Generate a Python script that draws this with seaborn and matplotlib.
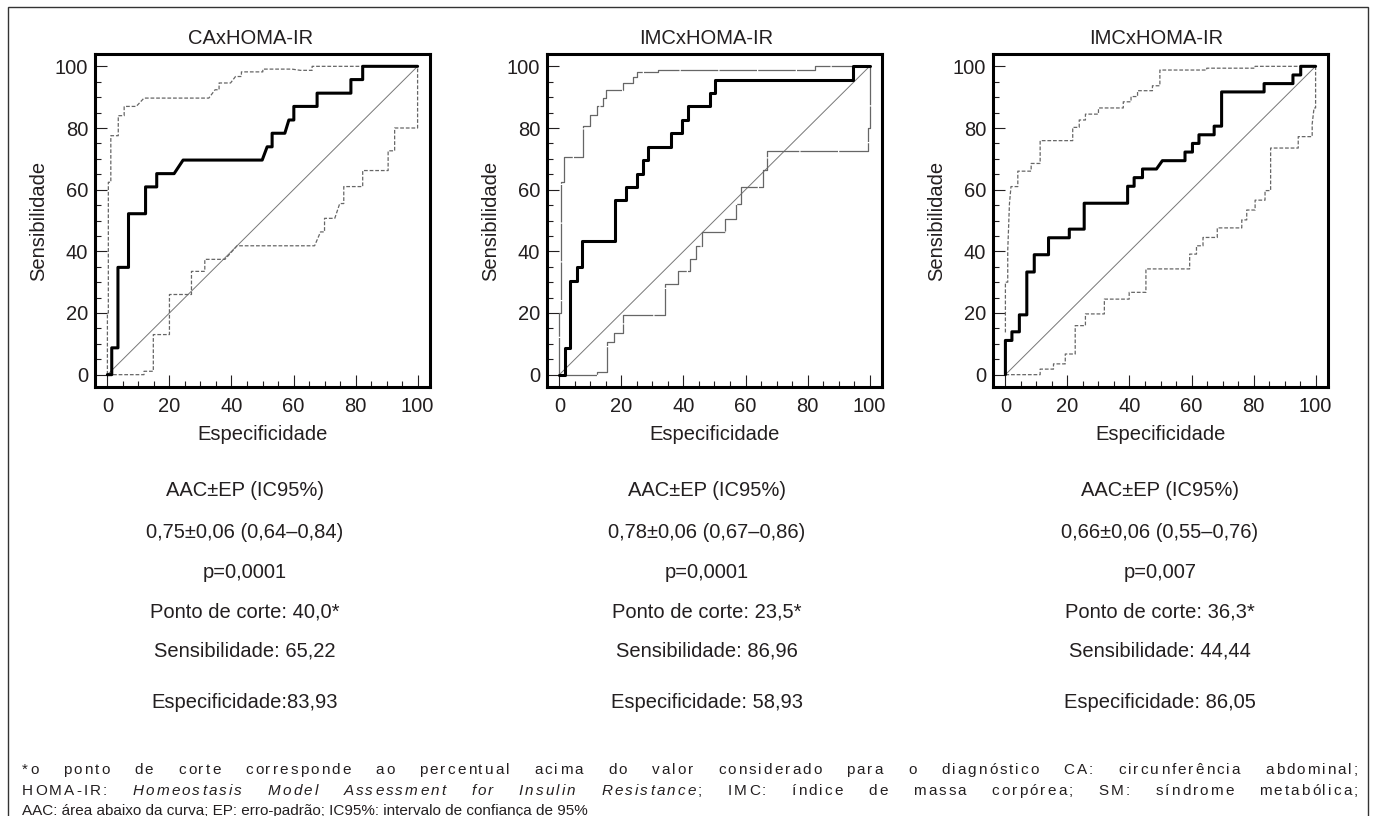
import matplotlib
matplotlib.use('Agg')
import matplotlib.pyplot as plt
from matplotlib.patches import Rectangle
from matplotlib.ticker import MultipleLocator
import seaborn as sns

# ---- curves (x: especificidade scale, y: sensibilidade) ----
# panel 1: CA x HOMA-IR
ca_roc_x = [0, 1.4, 1.4, 3.4, 3.4, 6.8, 6.8, 12.3, 12.3, 15.9, 15.9, 21.5, 24.4, 49.9, 51.5, 53.1, 53.1,
            57.2, 58.5, 60.1, 60.1, 67.6, 67.6, 78.5, 78.5, 82.3, 82.3, 100]
ca_roc_y = [0, 0, 8.7, 8.7, 34.8, 34.8, 52.2, 52.2, 60.9, 60.9, 65.2, 65.2, 69.6, 69.6, 73.9, 73.9, 78.3,
            78.3, 82.6, 82.6, 87.0, 87.0, 91.3, 91.3, 95.7, 95.7, 100, 100]
ca_hi_x = [0, 0, 0.3, 0.3, 1.1, 1.1, 3.5, 3.5, 5.4, 5.4, 9.3, 11.8, 32.7, 34.7, 36, 36, 39.7, 41.3, 43.2,
           43.2, 50.1, 50.1, 59.5, 62.2, 66, 66, 100]
ca_hi_y = [0, 20, 20, 62.4, 62.4, 77.5, 77.5, 84, 84, 87, 87, 89.7, 89.7, 92.4, 92.4, 94.6, 94.6, 96.7,
           96.7, 98.2, 98.2, 99.1, 99.1, 98.7, 98.7, 100, 100]
ca_lo_x = [0, 11.8, 11.8, 14.8, 14.8, 20, 20, 27.1, 27.1, 31.4, 31.4, 37.9, 41.8, 66.8, 68.7, 70, 70,
           73.3, 74.9, 76.2, 76.2, 82.3, 82.3, 90.5, 90.5, 92.6, 92.6, 100, 100]
ca_lo_y = [0, 0, 1.1, 1.1, 13, 13, 26, 26, 33.5, 33.5, 37.4, 37.4, 41.8, 41.8, 46.3, 46.3, 50.7, 50.7,
           55.5, 55.5, 61, 61, 66.2, 66.2, 72.6, 72.6, 80, 80, 100]

# panel 2: IMC x HOMA-IR
imc_roc_x = [0, 1.8, 1.8, 3.5, 3.5, 5.6, 5.6, 7.2, 7.2, 18, 18, 21.5, 21.5, 25, 25, 26.9, 26.9, 28.5,
             28.5, 36, 36, 39.6, 39.6, 41.4, 41.4, 48.4, 48.4, 50.3, 50.3, 94.6, 94.6, 100]
imc_roc_y = [0, 0, 8.7, 8.7, 30.4, 30.4, 34.8, 34.8, 43.5, 43.5, 56.5, 56.5, 60.9, 60.9, 65.2, 65.2,
             69.6, 69.6, 73.9, 73.9, 78.3, 78.3, 82.6, 82.6, 87.0, 87.0, 91.3, 91.3, 95.7, 95.7, 100, 100]
imc_hi_x = [0, 0, 0.5, 0.5, 1.6, 1.6, 7.5, 7.5, 9.9, 9.9, 12.2, 12.2, 14, 14, 15, 15, 20.6, 20.6, 23.7,
            23.7, 25, 25, 31.7, 31.7, 82.3, 82.3, 100]
imc_hi_y = [0, 20, 20, 62.5, 62.5, 70.7, 70.7, 80.8, 80.8, 84.2, 84.2, 87, 87, 89.7, 89.7, 92.4, 92.4,
            94.6, 94.6, 96.4, 96.4, 98.2, 98.2, 98.9, 98.9, 100, 100]
imc_lo_x = [0, 12.2, 12.2, 15.3, 15.3, 17.7, 17.7, 20.4, 20.4, 34.1, 34.1, 38.2, 38.2, 42.2, 42.2, 44.1,
            44.1, 46, 46, 53.5, 53.5, 57, 57, 58.6, 58.6, 65.6, 65.6, 67, 67, 99.5, 99.5, 100, 100]
imc_lo_y = [0, 0, 0.9, 0.9, 10.5, 10.5, 13.4, 13.4, 19.2, 19.2, 29.3, 29.3, 33.5, 33.5, 37.5, 37.5, 41.8,
            41.8, 46.2, 46.2, 50.5, 50.5, 55.4, 55.4, 60.9, 60.9, 66.3, 66.3, 72.6, 72.6, 80.1, 80.1, 100]

# panel 3: IMC x HOMA-IR (third sample)
imc2_roc_x = [0, 0, 2.1, 2.1, 4.5, 4.5, 6.9, 6.9, 9.3, 9.3, 13.9, 13.9, 20.6, 20.6, 25.4, 25.4, 39.4,
              39.4, 41.5, 41.5, 44.2, 44.2, 48.7, 50.6, 57.9, 57.9, 60.3, 60.3, 62.4, 62.4, 67.3, 67.3,
              69.7, 69.7, 83.4, 83.4, 92.7, 92.7, 95.2, 95.2, 100]
imc2_roc_y = [0, 11.1, 11.1, 13.9, 13.9, 19.4, 19.4, 33.3, 33.3, 38.9, 38.9, 44.4, 44.4, 47.2, 47.2,
              55.6, 55.6, 61.1, 61.1, 63.9, 63.9, 66.7, 66.7, 69.4, 69.4, 72.2, 72.2, 75, 75, 77.8, 77.8,
              80.6, 80.6, 91.7, 91.7, 94.4, 94.4, 97.2, 97.2, 100, 100]
imc2_hi_x = [0, 0, 0.75, 0.75, 1.3, 1.8, 4, 4, 8.3, 8.3, 11.2, 11.2, 21.7, 21.7, 23.8, 23.8, 25.8, 25.8,
             30, 30, 38, 38, 40.5, 40.5, 42.6, 42.6, 47.4, 47.4, 49.8, 49.8, 64.9, 64.9, 80.5, 80.5, 100]
imc2_hi_y = [13.7, 30, 30, 40.2, 55.4, 61, 61, 66, 66, 68.5, 68.5, 75.9, 75.9, 80.2, 80.2, 82.6, 82.6,
             84.5, 84.5, 86.5, 86.5, 88.5, 88.5, 90.2, 90.2, 92.1, 92.1, 93.7, 93.7, 98.8, 98.8, 99.4,
             99.4, 100, 100]
imc2_lo_x = [0, 11.2, 11.2, 15.5, 15.5, 19.3, 19.3, 22.5, 22.5, 25.8, 25.8, 31.9, 31.9, 39.9, 39.9, 45.3,
             45.3, 59.4, 59.4, 61.6, 61.6, 63.7, 63.7, 68.3, 68.3, 76.2, 76.2, 77.8, 77.8, 80.5, 80.5,
             83.7, 83.7, 85.5, 85.5, 94.4, 94.4, 98.9, 98.9, 99.5, 100, 100]
imc2_lo_y = [0, 0, 1.8, 1.8, 3.5, 3.5, 6.7, 6.7, 15.9, 15.9, 19.7, 19.7, 24.5, 24.5, 26.7, 26.7, 34.3,
             34.3, 39.1, 39.1, 41.8, 41.8, 44.5, 44.5, 47.6, 47.6, 50.2, 50.2, 53.4, 53.4, 56.6, 56.6,
             59.7, 59.7, 73.5, 73.5, 77.2, 77.2, 81.3, 86.5, 86.5, 100]

diag = [0, 100]

titles = ["CAxHOMA-IR", "IMCxHOMA-IR", "IMCxHOMA-IR"]
stats = [
    ["AAC\u00b1EP (IC95%)", "0,75\u00b10,06 (0,64\u20130,84)", "p=0,0001", "Ponto de corte: 40,0*",
     "Sensibilidade: 65,22", "Especificidade:83,93"],
    ["AAC\u00b1EP (IC95%)", "0,78\u00b10,06 (0,67\u20130,86)", "p=0,0001", "Ponto de corte: 23,5*",
     "Sensibilidade: 86,96", "Especificidade: 58,93"],
    ["AAC\u00b1EP (IC95%)", "0,66\u00b10,06 (0,55\u20130,76)", "p=0,007", "Ponto de corte: 36,3*",
     "Sensibilidade: 44,44", "Especificidade: 86,05"],
]
note1 = "*o ponto de corte corresponde ao percentual acima do valor considerado para o diagnóstico CA: circunferência abdominal;"
note2_a = "HOMA-IR: "
note2_it = "Homeostasis Model Assessment for Insulin Resistance"
note2_b = "; IMC: índice de massa corpórea; SM: síndrome metabólica;"
note3 = "AAC: área abaixo da curva; EP: erro-padrão; IC95%: intervalo de confiança de 95%"

sns.set_theme(style="white")
plt.rcParams['font.family'] = ['Liberation Sans', 'DejaVu Sans']
ink = '#231f20'

W, H = 1375, 816
fig = plt.figure(figsize=(W / 100, H / 100), dpi=100)

panels = [
    (ca_roc_x, ca_roc_y, ca_hi_x, ca_hi_y, ca_lo_x, ca_lo_y),
    (imc_roc_x, imc_roc_y, imc_hi_x, imc_hi_y, imc_lo_x, imc_lo_y),
    (imc2_roc_x, imc2_roc_y, imc2_hi_x, imc2_hi_y, imc2_lo_x, imc2_lo_y),
]
lefts = [95, 547, 993]
title_x = [0.465, 0.476, 0.487]
ci_styles = [(0, (3, 1.5)), (0, (30, 1)), (0, (3, 1.5))]
text_cx = [245, 707, 1160]
text_y = [491, 532, 572, 612, 651, 703]

for i, (rx, ry, hx, hy, lx, ly) in enumerate(panels):
    ax = fig.add_axes([lefts[i] / W, 1 - 387 / H, 335 / W, 333 / H])
    sns.lineplot(x=diag, y=diag, ax=ax, color='#777777', linewidth=0.7)
    sns.lineplot(x=hx, y=hy, sort=False, estimator=None, ax=ax, color='#666666',
                 linewidth=0.9, linestyle=ci_styles[i])
    sns.lineplot(x=lx, y=ly, sort=False, estimator=None, ax=ax, color='#666666',
                 linewidth=0.9, linestyle=ci_styles[i])
    sns.lineplot(x=rx, y=ry, sort=False, estimator=None, ax=ax, color='black', linewidth=2.2)
    ax.set_xlim(-4, 104)
    ax.set_ylim(-4, 104)
    ax.xaxis.set_major_locator(MultipleLocator(20))
    ax.yaxis.set_major_locator(MultipleLocator(20))
    ax.xaxis.set_minor_locator(MultipleLocator(5))
    ax.yaxis.set_minor_locator(MultipleLocator(5))
    ax.tick_params(which='major', direction='in', length=8.5, width=0.8, color=ink,
                   labelsize=14.5, labelcolor=ink, pad=5, bottom=True, left=True)
    ax.tick_params(which='minor', direction='in', length=4.5, width=0.8, color=ink,
                   bottom=True, left=True)
    ax.tick_params(axis='x', which='major', pad=7)
    for s in ax.spines.values():
        s.set_linewidth(2.2)
        s.set_color('black')
    ax.set_xlabel("Especificidade", fontsize=14.5, color=ink, labelpad=7)
    ax.set_ylabel("Sensibilidade", fontsize=14.5, color=ink, labelpad=5)
    ax.set_title(titles[i], fontsize=14.5, color=ink, x=title_x[i], pad=7)
    for line, yy in zip(stats[i], text_y):
        fig.text(text_cx[i] / W, 1 - yy / H, line, ha='center', va='center',
                 fontsize=14.5, color=ink)

# outer box (open at the bottom, image is cropped there)
fig.add_artist(Rectangle((8 / W, -0.05), 1360 / W, 1.05 - 7 / H, transform=fig.transFigure,
                         fill=False, edgecolor='#333333', linewidth=1.0))

# footnote; the first two lines are justified (wide word gaps, slight letter spacing)
renderer = fig.canvas.get_renderer()
fs_note = 11
x_left, x_right = 22, 1358
space_weight = 9
_cache = {}


def char_width(c, style):
    key = (c, style)
    if key not in _cache:
        a = fig.text(0, 0, '|' + c + '|', fontsize=fs_note, style=style)
        b = fig.text(0, 0, '||', fontsize=fs_note, style=style)
        _cache[key] = a.get_window_extent(renderer).width - b.get_window_extent(renderer).width
        a.remove()
        b.remove()
    return _cache[key]


def justify(y_px, segments):
    chars = [(c, st) for txt, st in segments for c in txt]
    widths = [char_width(c, st) for c, st in chars]
    weights = [space_weight if c == ' ' else 1 for c, st in chars[:-1]] + [0]
    unit = (x_right - x_left - sum(widths)) / sum(weights)
    x = x_left
    for (c, st), w, k in zip(chars, widths, weights):
        if c != ' ':
            fig.text(x / W, 1 - y_px / H, c, fontsize=fs_note, style=st, color=ink,
                     ha='left', va='baseline')
        x += w + k * unit


justify(774, [(note1, 'normal')])
justify(795, [(note2_a, 'normal'), (note2_it, 'italic'), (note2_b, 'normal')])
fig.text(x_left / W, 1 - 815 / H, note3, fontsize=fs_note, color=ink, ha='left', va='baseline')

fig.savefig('out.png', dpi=100)
